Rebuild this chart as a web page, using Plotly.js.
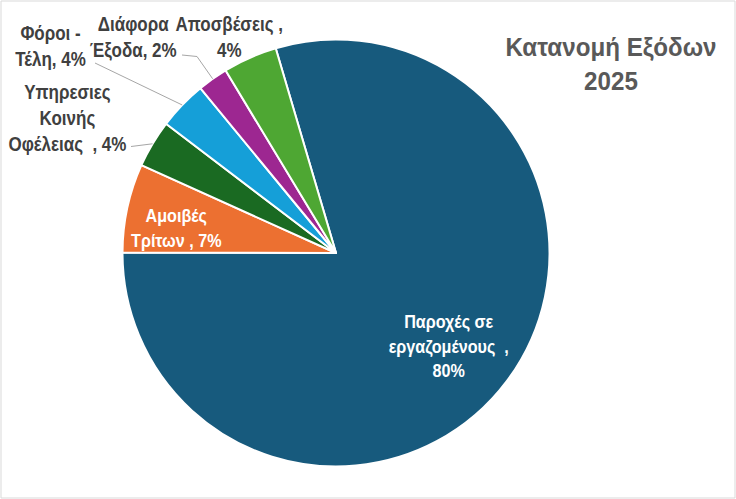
<!DOCTYPE html>
<html><head><meta charset="utf-8">
<script src="https://cdn.plot.ly/plotly-3.0.1.min.js"></script>
<style>
html,body{margin:0;padding:0;background:#fff}
#chart{width:736px;height:499px}
/* the reference face is a condensed Arial-like sans: narrow the glyphs */
#chart text.annotation-text, #chart text.gtitle {transform-box: fill-box; transform-origin: 50% 50%;}
#chart text.annotation-text {transform: scaleX(0.85);}
#chart text.gtitle {transform: scaleX(0.93);}
</style>
</head><body><div id="chart"></div>
<script>
// ---- data ----
const labels = ['Παροχές σε εργαζομένους', 'Αμοιβές Τρίτων', 'Υπηρεσιες Κοινής Ωφέλειας', 'Φόροι - Τέλη', 'Διάφορα Έξοδα', 'Αποσβέσεις'];
const values = [79.6, 6.7, 3.6, 3.7, 2.3, 4.1];
const colors = ['#175a7d', '#ec7031', '#1a6a22', '#159fd8', '#9d2791', '#4ea733'];
const labelText = ['Παροχές σε<br>εργαζομένους  ,<br>{p}', 'Αμοιβές<br>Τρίτων , {p}', 'Υπηρεσιες<br>Κοινής<br>Οφέλειας  , {p}', 'Φόροι -<br>Τέλη, {p}', 'Διάφορα<br>Έξοδα, {p}', 'Αποσβέσεις ,<br>{p}'];
const titleText = 'Κατανομή Εξόδων<br>2025';

// ---- layout helpers ----
const W = 736, H = 499;
const FONT = '"Liberation Sans", Arial, sans-serif';
const cx = 336, cy = 253, R = 213.5;
const rotation = -16.4;
const px = x => x / W, py = y => 1 - y / H;
const total = values.reduce((a, b) => a + b, 0);
const pct = values.map(v => Math.round(v / total * 100) + '%');

// mid-angle point on the rim for each slice (for leader lines)
const rim = [];
let acc = rotation;
values.forEach(v => {
  const a0 = acc, a1 = acc + v / total * 360; acc = a1;
  const m = (a0 + a1) / 2 * Math.PI / 180;
  rim.push([cx + R * Math.sin(m), cy - R * Math.cos(m)]);
});

// label block centres [x, y, inside?]
const labelPos = [[448, 346, true], [176, 228, true], [67, 118, false], [50, 46, false], [133, 37, false], [229, 37, false]];
const annotations = labelPos.map((p, i) => ({
  xref: 'paper', yref: 'paper', x: px(p[0]), y: py(p[1]), xanchor: 'center', yanchor: 'middle',
  showarrow: false, align: 'center',
  text: labelText[i].replace('{p}', pct[i]),
  font: {family: FONT, size: p[2] ? 19 : 20, color: p[2] ? '#ffffff' : '#404040', weight: 'bold'}
}));

// leader line start points (label side)
const leaderStart = {2: [[131, 146.5]], 3: [[95, 63]], 4: [[182, 55], [197, 56.5]]};
const shapes = [{type: 'rect', xref: 'paper', yref: 'paper', x0: px(1), x1: px(735), y0: py(498), y1: py(1),
  line: {color: '#d9d9d9', width: 1}}];
Object.keys(leaderStart).forEach(k => {
  const pts = leaderStart[k].concat([rim[k]]);
  const d = pts.map((q, j) => (j ? 'L' : 'M') + px(q[0]) + ',' + py(q[1])).join(' ');
  shapes.push({type: 'path', xref: 'paper', yref: 'paper', path: d, line: {color: '#a6a6a6', width: 1}});
});

const trace = {
  type: 'pie', labels: labels, values: values, sort: false, direction: 'clockwise', rotation: rotation,
  marker: {colors: colors, line: {color: '#ffffff', width: 2}},
  textinfo: 'none', hoverinfo: 'label+percent', showlegend: false,
  domain: {x: [px(cx - R), px(cx + R)], y: [py(cy + R), py(cy - R)]}
};

const layout = {
  width: W, height: H, margin: {l: 0, r: 0, t: 0, b: 0},
  paper_bgcolor: '#ffffff', plot_bgcolor: '#ffffff', showlegend: false,
  title: {text: titleText, x: px(611), xanchor: 'center', y: 1 - 56 / H, yanchor: 'middle', yref: 'container',
    font: {family: FONT, size: 26, color: '#595959', weight: 'bold'}},
  annotations: annotations, shapes: shapes
};
Plotly.newPlot('chart', [trace], layout, {displayModeBar: false, staticPlot: true});
</script></body></html>
